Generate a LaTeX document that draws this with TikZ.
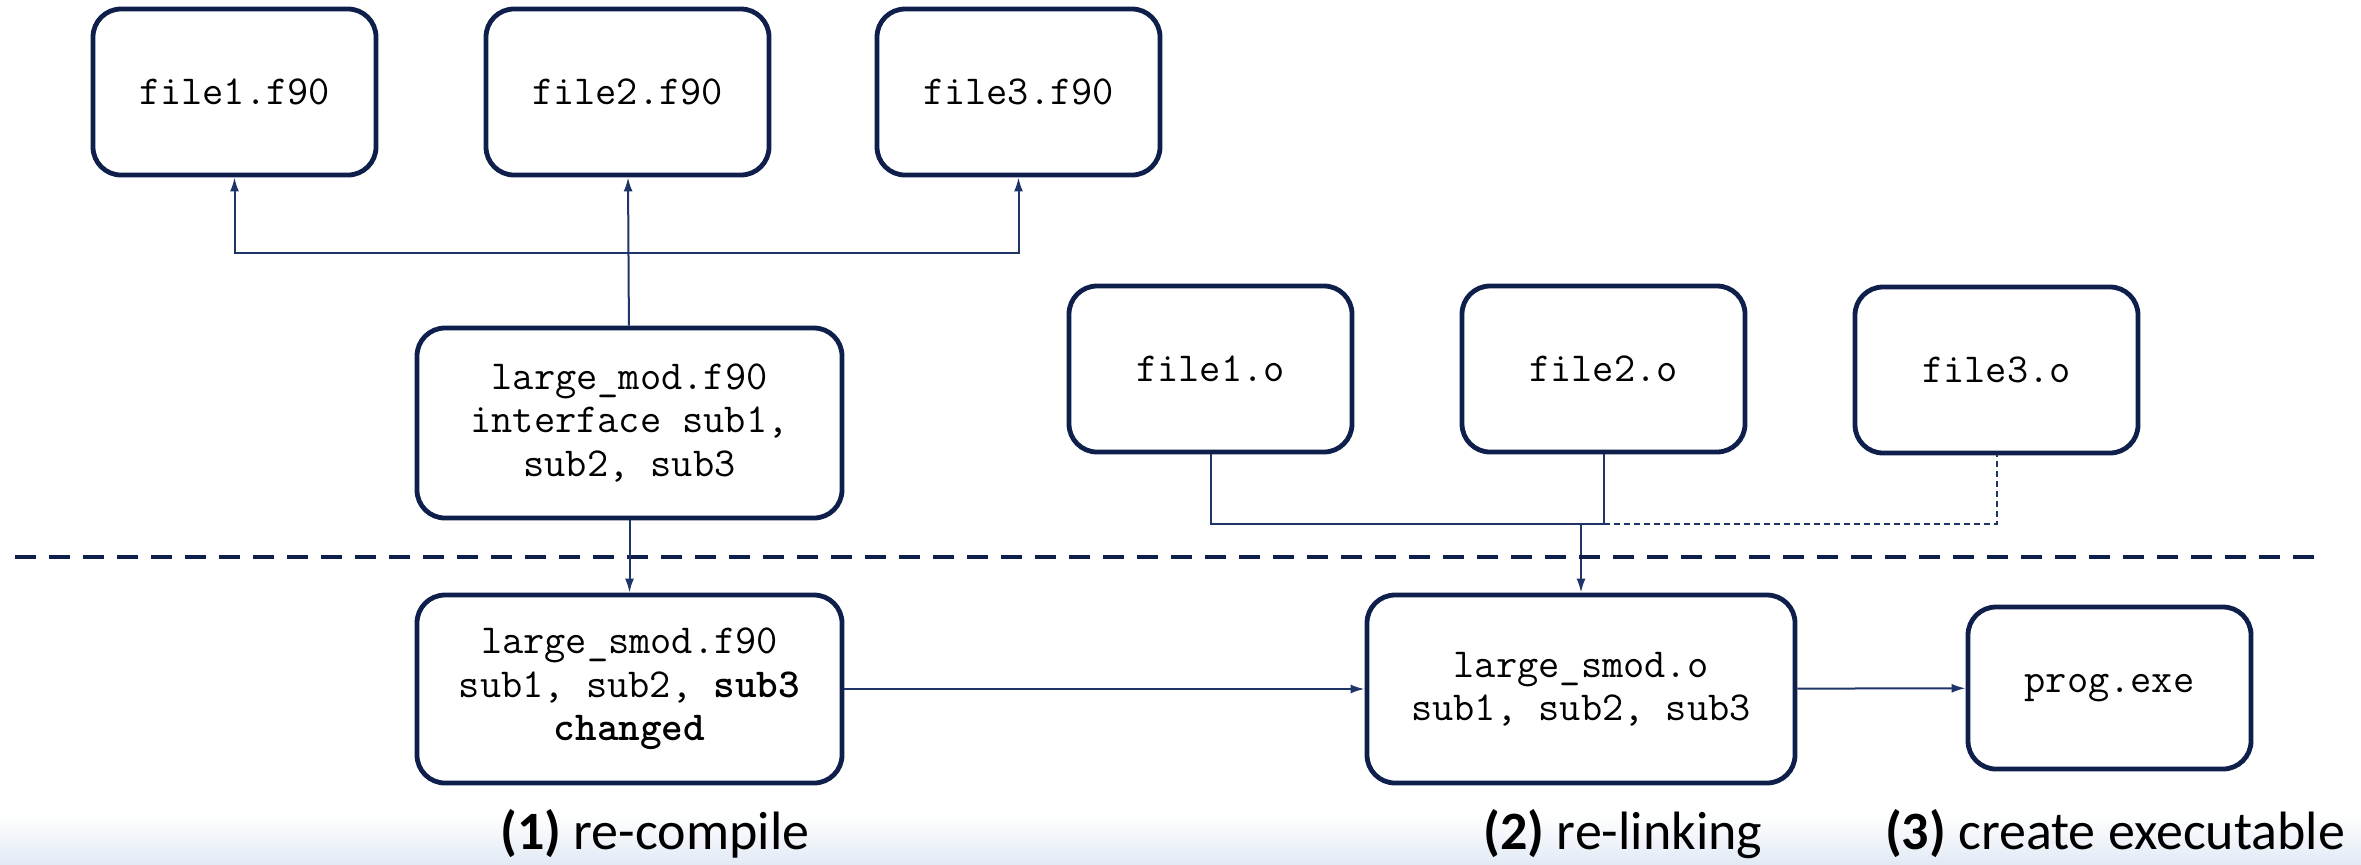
\documentclass[tikz,border=0pt]{standalone}
\usepackage{fontspec}
\setmainfont{Carlito}
\usetikzlibrary{arrows.meta}
\definecolor{boxnavy}{HTML}{0F1F4B}
\definecolor{linknavy}{HTML}{1F3468}
\definecolor{bandblue}{HTML}{E2EAF5}
\tikzset{
  filebox/.style={draw=boxnavy, line width=2.4pt, rounded corners=14pt, align=center, fill=white,
    font=\ttfamily\fontsize{20.6}{21.7}\selectfont, minimum width=141.5pt, minimum height=83pt, inner sep=0pt},
  link/.style={draw=linknavy, line width=1pt},
  linkarrow/.style={link, -{Latex[length=7pt,width=4.5pt]}},
  steplabel/.style={font=\fontsize{27}{31}\selectfont, anchor=base}
}
\begin{document}
\begin{tikzpicture}[x=0.5pt, y=-0.5pt]
\useasboundingbox (0,0) rectangle (2361,864);
\shade[top color=white, bottom color=bandblue] (0,815) rectangle (2361,864);

\node[filebox] (f1) at (234.5,92) {file1.f90};
\node[filebox] (f2) at (627.5,92) {file2.f90};
\node[filebox] (f3) at (1018.5,92) {file3.f90};
\node[filebox, minimum width=212.5pt, minimum height=95pt] (lmod) at (629.5,423) {large\_mod.f90\\interface sub1,\\sub2, sub3};

\node[filebox] (o1) at (1210.5,369) {file1.o};
\node[filebox] (o2) at (1603.5,369) {file2.o};
\node[filebox] (o3) at (1996.5,370) {file3.o};

\node[filebox, minimum width=212.5pt, minimum height=94pt] (smodf) at (629.5,689) {large\_smod.f90\\sub1, sub2, \textbf{sub3}\\\textbf{changed}};
\node[filebox, minimum width=214pt, minimum height=94pt] (smodo) at (1581,689) {large\_smod.o\\sub1, sub2, sub3};
\node[filebox, minimum height=81pt] (prog) at (2109.5,688) {prog.exe};

\coordinate (fork) at (629.5,253);
\coordinate (join) at (1581,524);

\draw[linkarrow] (lmod) -- (f2);
\draw[linkarrow] (fork) -| (f1.south);
\draw[linkarrow] (fork) -| (f3.south);

\draw[link] (o1.south) |- (o2.south |- join) -- (o2.south);
\draw[link, dash pattern=on 3pt off 2pt] (o2.south |- join) -| (o3.south);
\draw[linkarrow] (join) -- (smodo);

\draw[boxnavy, line width=2pt, dash pattern=on 10.5pt off 6.5pt] (15,557) -- (2319,557);

\draw[linkarrow] (lmod) -- (smodf);
\draw[linkarrow] (smodf) -- (smodo);
\draw[linkarrow] (smodo) -- (prog);

\node[steplabel] (recompile) at (655,849) {\textbf{(1)} re-compile};
\node[steplabel] (relink) at (1623,849) {\textbf{(2)} re-linking};
\node[steplabel] (create) at (2115,849) {\textbf{(3)} create executable};
\end{tikzpicture}
\end{document}
